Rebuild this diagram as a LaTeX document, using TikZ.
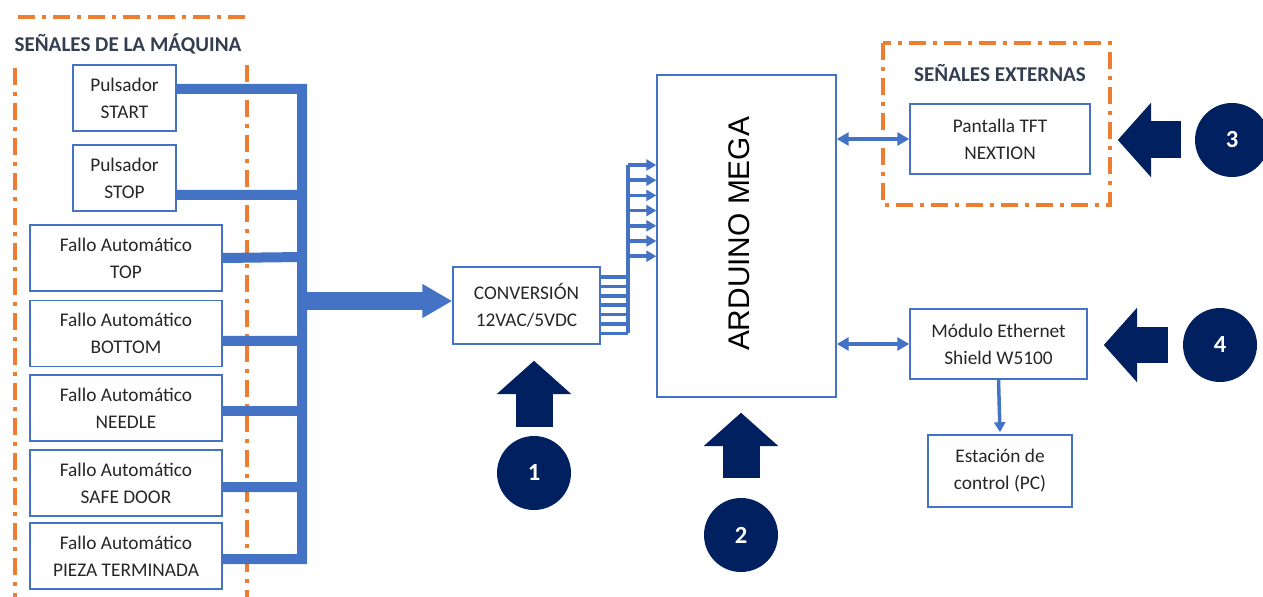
\documentclass[tikz,border=0pt]{standalone}
\usepackage{fontspec}
\usepackage{graphicx}
\setmainfont{Carlito}
\newfontfamily\arialfont{Liberation Sans}
\usetikzlibrary{arrows.meta}
\definecolor{B1}{RGB}{68,114,196}
\definecolor{O1}{RGB}{237,125,49}
\definecolor{N1}{RGB}{0,32,96}
\definecolor{T1}{RGB}{38,38,38}
\definecolor{T2}{RGB}{51,63,80}
\tikzset{
  blk/.style={draw=B1, line width=0.03cm, text=T1, align=center, inner sep=0pt,
    font=\fontsize{11}{15.4}\selectfont},
  falla/.style={blk, minimum width=3.84cm, minimum height=1.32cm},
  pulso/.style={blk, minimum width=2.06cm, minimum height=1.32cm},
  bus/.style={B1, line width=0.2cm},
  sig/.style={B1, line width=0.07cm},
  tipo/.style={-{Triangle[length=0.2cm, width=0.22cm]}},
  edge/.style={O1, line width=0.08cm,
    dash pattern=on 0.34cm off 0.14cm on 0.08cm off 0.14cm},
  num/.style={circle, fill=N1, text=white, minimum size=1.48cm, inner sep=0pt,
    font=\fontsize{14}{14}\bfseries\selectfont},
  push/.style={N1, line width=0.74cm, -{Triangle[length=0.67cm, width=1.46cm]}},
  ttl/.style={text=T2, font=\fontsize{12}{12}\bfseries\selectfont}
}

\begin{document}
\begin{tikzpicture}[x=0.02cm, y=-0.02cm]
  \useasboundingbox (0,0) rectangle (1263,597);

  % senales de la maquina
  \draw[edge] (245,17) -- (13,17);
  \draw[edge] (15,68) -- (15,597);
  \draw[edge] (247,65) -- (247,597);
  \node[ttl] (tmaq) at (128,44) {SEÑALES DE LA MÁQUINA};

  \node[pulso] (start) at (124.5,98) {Pulsador\\START};
  \node[pulso] (stop) at (124.5,178) {Pulsador\\STOP};
  \node[falla] (ftop) at (126,258) {Fallo Automático\\TOP};
  \node[falla] (fbottom) at (126,333.5) {Fallo Automático\\BOTTOM};
  \node[falla] (fneedle) at (126,408) {Fallo Automático\\NEEDLE};
  \node[falla] (fsafe) at (126,483) {Fallo Automático\\SAFE DOOR};
  \node[falla] (fpieza) at (126,556) {Fallo Automático\\PIEZA TERMINADA};

  % bus
  \coordinate (bus) at (302,0);
  \draw[bus] ([yshift=0.18cm]start.east) -| (bus |- 0,559) -- ([yshift=-0.06cm]fpieza.east);
  \draw[bus] ([yshift=-0.34cm]stop.east) -- (bus |- 0,195);
  \draw[bus] (ftop.east) -- (bus |- 0,257);
  \draw[bus] ([yshift=-0.15cm]fbottom.east) -- (bus |- 0,341);
  \draw[bus] ([yshift=-0.06cm]fneedle.east) -- (bus |- 0,411);
  \draw[bus] ([yshift=-0.08cm]fsafe.east) -- (bus |- 0,487);

  % conversion
  \node[blk, minimum width=2.94cm, minimum height=1.54cm] (conv) at (526.5,305.5) {CONVERSIÓN\\12VAC/5VDC};
  \draw[B1, line width=0.36cm, -{Triangle[length=0.6cm, width=0.64cm]}] (bus |- 0,301) -- (conv.west |- 0,301);

  % arduino
  \node[blk, minimum width=3.58cm, minimum height=6.44cm] (mega) at (746.5,236) {};
  \node[text=black, font=\arialfont\fontsize{17}{17}\selectfont] (tmega) at (739,234) {\rotatebox{90}{ARDUINO MEGA}};

  \coordinate (fan) at (628,0);
  \draw[sig] (fan |- 0,165) -- (fan |- 0,333);
  \foreach \i in {0,...,6} {
    \draw[sig] (conv.east |- 0,{277+9.4*\i}) -- (fan |- 0,{277+9.4*\i});
    \draw[sig, tipo] (fan |- 0,{165+15.2*\i}) -- (mega.west |- 0,{165+15.2*\i});
  }

  % senales externas
  \draw[edge] (883,43) rectangle (1110,205);
  \node[ttl] (text) at (1000,73) {SEÑALES EXTERNAS};
  \node[blk, minimum width=3.6cm, minimum height=1.4cm] (tft) at (1000,139) {Pantalla TFT\\NEXTION};
  \node[blk, minimum width=3.54cm, minimum height=1.4cm] (eth) at (998.5,344) {Módulo Ethernet\\Shield W5100};
  \node[blk, minimum width=2.88cm, minimum height=1.44cm] (pc) at (1000,471) {Estación de\\control (PC)};

  \draw[sig, {Triangle[length=0.24cm, width=0.26cm]}-{Triangle[length=0.24cm, width=0.26cm]}] (mega.east |- tft.west) -- (tft.west);
  \draw[sig, {Triangle[length=0.24cm, width=0.26cm]}-{Triangle[length=0.24cm, width=0.26cm]}] (mega.east |- eth.west) -- (eth.west);
  \draw[sig, tipo] (eth.south) -- ([yshift=0.04cm]pc.north);

  % etapas
  \node[num] (c1) at (534,473) {1};
  \node[num] (c2) at (741,535) {2};
  \node[num] (c3) at (1232,140) {3};
  \node[num] (c4) at (1220,345) {4};
  \draw[push] ([yshift=0.18cm]c1.north) -- ([yshift=-0.32cm]c1.north |- conv.south);
  \draw[push] ([yshift=0.4cm]c2.north) -- ([yshift=-0.3cm]c2.north |- mega.south);
  \draw[push] ([xshift=-0.28cm]c3.west) -- ([xshift=0.54cm]tft.east |- c3.west);
  \draw[push] ([xshift=-0.3cm]c4.west) -- ([xshift=0.32cm]eth.east |- c4.west);
\end{tikzpicture}
\end{document}
